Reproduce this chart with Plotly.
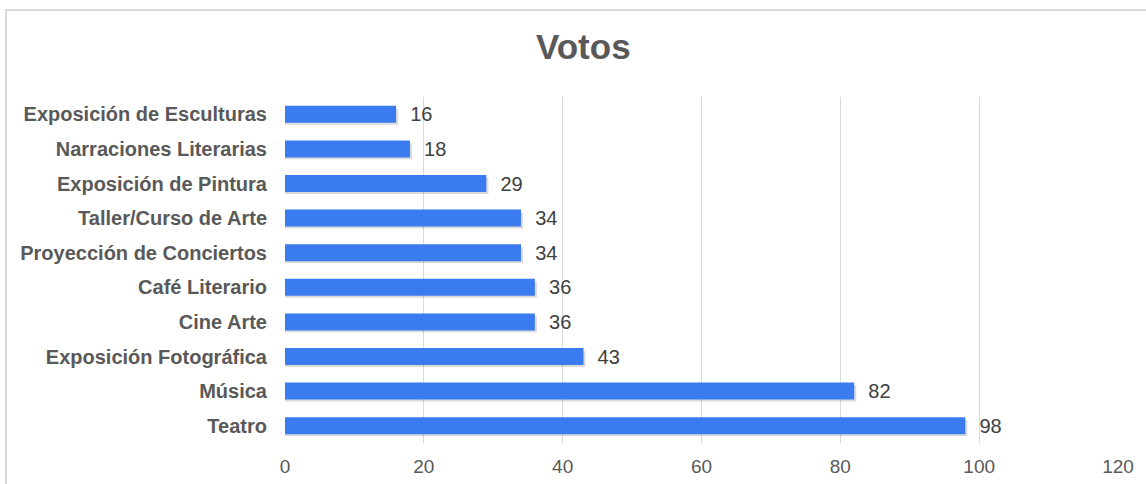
import plotly.graph_objects as go

categories = ["Teatro", "Música", "Exposición Fotográfica", "Cine Arte", "Café Literario",
              "Proyección de Conciertos", "Taller/Curso de Arte", "Exposición de Pintura",
              "Narraciones Literarias", "Exposición de Esculturas"]
votes = [98, 82, 43, 36, 36, 34, 34, 29, 18, 16]
x_ticks = [0, 20, 40, 60, 80, 100, 120]

FONT = "Liberation Sans, Arial, sans-serif"

fig = go.Figure()
# soft shadow
fig.add_trace(go.Bar(
    y=categories, x=[v + 0.3 for v in votes], orientation="h",
    width=0.46, offset=-0.30,
    marker=dict(color="rgba(0,0,0,0.14)", line=dict(width=0)),
    hoverinfo="skip", showlegend=False,
))
fig.add_trace(go.Bar(
    y=categories, x=votes, orientation="h",
    width=0.49, offset=-0.245,
    marker=dict(color="#3a7cf0", line=dict(width=0)),
    text=["  " + str(v) for v in votes], textposition="outside", constraintext="none",
    textfont=dict(family=FONT, size=20, color="#404040"),
    cliponaxis=False, showlegend=False,
))

fig.update_layout(
    width=1146, height=484,
    margin=dict(l=285, r=28, t=97, b=41, autoexpand=False),
    paper_bgcolor="white", plot_bgcolor="white",
    barmode="overlay",
    title=dict(text="<b>Votos</b>", x=0.509, xanchor="center", y=0.903, yanchor="middle",
               font=dict(family=FONT, size=35, color="#595959")),
    xaxis=dict(range=[0, 120], tickvals=x_ticks, showgrid=True, gridcolor="#d9d9d9", gridwidth=1,
               zeroline=False, showline=False, automargin=False,
               tickfont=dict(family=FONT, size=19, color="#595959"), ticklabelstandoff=10),
    yaxis=dict(showgrid=False, zeroline=False, showline=False, categoryorder="array",
               categoryarray=categories, automargin=False,
               tickfont=dict(family=FONT, size=20, color="#595959", weight="bold"),
               ticklabelstandoff=17),
    shapes=[dict(type="rect", xref="paper", yref="paper",
                 x0=(6 - 285) / 833, x1=1.2, y0=-0.3, y1=1 + (97 - 10) / 346,
                 line=dict(color="#d9d9d9", width=2), fillcolor="rgba(0,0,0,0)", layer="below")],
)

fig.write_html("out.html", config={"displayModeBar": False},
               post_script="document.body.style.margin='0';document.body.style.overflow='hidden';")
